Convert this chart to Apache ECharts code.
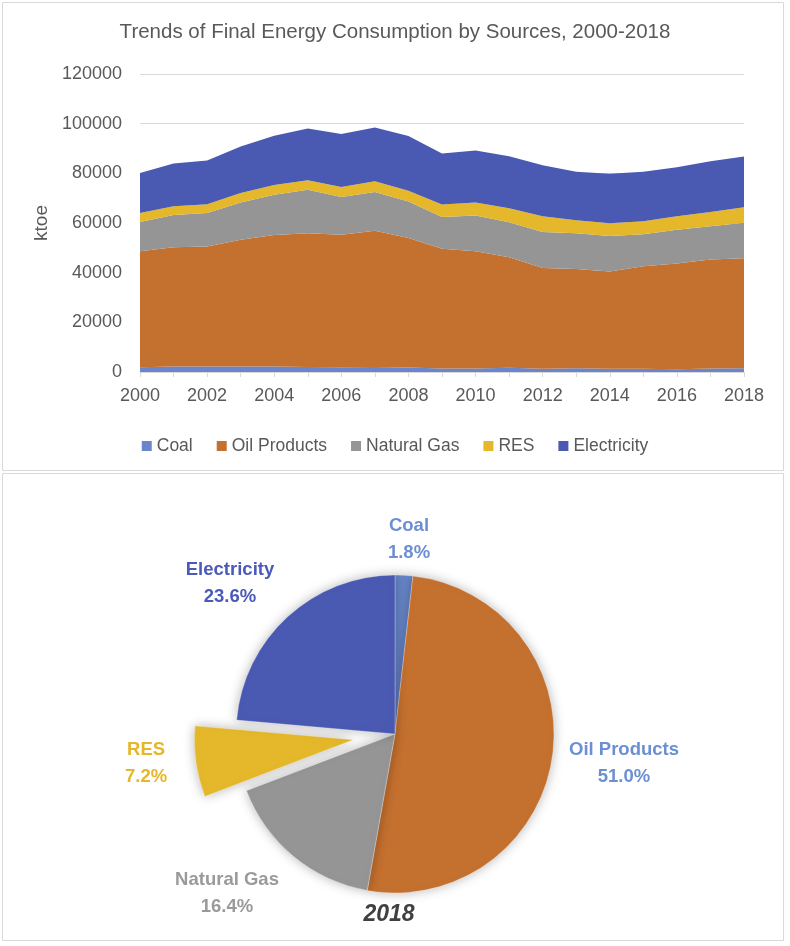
<!DOCTYPE html>
<html>
<head>
<meta charset="utf-8">
<script src="https://cdn.jsdelivr.net/npm/echarts@6/dist/echarts.min.js"></script>
<style>
html,body{margin:0;padding:0;background:#fff;}
#chart{width:790px;height:946px;}
</style>
</head>
<body>
<div id="chart"></div>
<script>
var years = ['2000','2001','2002','2003','2004','2005','2006','2007','2008','2009','2010','2011','2012','2013','2014','2015','2016','2017','2018'];
var seriesNames = ['Coal','Oil Products','Natural Gas','RES','Electricity'];
var coal = [1900,2200,2200,2200,2200,2000,1900,2000,1800,1400,1400,1700,1300,1500,1300,1300,1100,1400,1560];
var oil  = [46700,48000,48300,51100,53000,53900,53400,54900,52200,48200,47200,44500,40600,40000,39200,41300,42600,43900,44270];
var gas  = [11800,13000,13500,15000,16200,17500,15200,15600,14700,12800,14400,14100,14500,14400,14300,12900,13600,13400,14240];
var res  = [3600,3500,3600,3800,3900,3800,4000,4300,4300,5100,5300,5600,6300,5200,5100,5200,5400,5700,6250];
var elec = [16100,17300,17600,18700,19800,20900,21300,21700,22000,20500,20900,21000,20600,19500,19900,19900,19800,20500,20490];
var pieYear = '2018';

var colors = ['#6886c9','#c4702f','#959595','#e5b72a','#4a59b2'];
var labelColors = ['#6c8fd3','#6c8fd3','#9a9a9a','#e5b72a','#4a5ab8'];
var pieLabelPos = [[409,539],[624,763],[227,893],[158,767],[230,583]];

var allData = [coal, oil, gas, res, elec];
var yi = years.indexOf(pieYear);

var areaSeries = seriesNames.map(function(n, i){
  return {
    name: n, type: 'line', stack: 'total', data: allData[i],
    showSymbol: false, symbol: 'none',
    lineStyle: {width: 0},
    areaStyle: {color: colors[i], opacity: 1},
    itemStyle: {color: colors[i]},
    emphasis: {disabled: true},
    z: 2
  };
});

var pieData = seriesNames.map(function(n, i){
  return {
    name: n, value: allData[i][yi],
    selected: n === 'RES',
    itemStyle: {color: colors[i]},
    label: {color: labelColors[i]}
  };
});

var chart = echarts.init(document.getElementById('chart'));
chart.setOption({
  animation: false,
  backgroundColor: '#fff',
  title: {
    text: 'Trends of Final Energy Consumption by Sources, 2000-2018',
    left: 'center', top: 22, padding: 0,
    textStyle: {fontFamily: 'Liberation Sans', fontSize: 20.5, fontWeight: 'normal', color: '#595959'}
  },
  legend: {
    data: seriesNames,
    left: 'center', top: 432,
    itemWidth: 10, itemHeight: 10, itemGap: 24,
    icon: 'rect',
    selectedMode: false,
    textStyle: {fontFamily: 'Liberation Sans', fontSize: 17.5, color: '#595959'}
  },
  grid: {left: 140, right: 46, top: 74, height: 298, containLabel: false},
  xAxis: {
    type: 'category', data: years, boundaryGap: false,
    axisLine: {lineStyle: {color: '#d9d9d9', width: 1}},
    axisTick: {show: true, interval: 0, length: 5, lineStyle: {color: '#d9d9d9'}},
    axisLabel: {interval: 1, margin: 15, fontFamily: 'Liberation Sans', fontSize: 18, color: '#595959'},
    splitLine: {show: false}
  },
  yAxis: {
    type: 'value', min: 0, max: 120000, interval: 20000,
    name: 'ktoe', nameLocation: 'middle', nameGap: 82, nameRotate: 90,
    nameTextStyle: {fontFamily: 'Liberation Sans', fontSize: 19, color: '#595959'},
    axisLine: {show: false}, axisTick: {show: false},
    axisLabel: {margin: 18, fontFamily: 'Liberation Sans', fontSize: 18, color: '#595959',
      formatter: function(v){ return String(v); }},
    splitLine: {lineStyle: {color: '#d9d9d9', width: 1}}
  },
  graphic: [
    {type: 'rect', shape: {x: 2.5, y: 2.5, width: 781, height: 468}, style: {fill: 'none', stroke: '#d9d9d9', lineWidth: 1}, silent: true, z: -1},
    {type: 'rect', shape: {x: 2.5, y: 473.5, width: 781, height: 467}, style: {fill: 'none', stroke: '#d9d9d9', lineWidth: 1}, silent: true, z: -1},
    {type: 'text', x: 389, y: 915, style: {text: pieYear, fontFamily: 'Liberation Sans', fontSize: 23, fontWeight: 'bold', fontStyle: 'italic', fill: '#404040', textAlign: 'center', textVerticalAlign: 'middle'}, silent: true}
  ],
  series: areaSeries.concat([{
    name: 'Share ' + pieYear,
    type: 'pie',
    center: [395, 734],
    radius: 159,
    startAngle: 90,
    clockwise: true,
    selectedMode: 'single',
    selectedOffset: 42,
    percentPrecision: 1,
    avoidLabelOverlap: false,
    emphasis: {disabled: true},
    itemStyle: {borderColor: 'rgba(255,255,255,0.6)', borderWidth: 0.5, shadowBlur: 12, shadowColor: 'rgba(0,0,0,0.28)'},
    label: {
      show: true, position: 'outside',
      formatter: function(p){ return p.name + '\n' + Number(p.percent).toFixed(1) + '%'; },
      fontFamily: 'Liberation Sans', fontSize: 18.5, fontWeight: 'bold', lineHeight: 27, align: 'center'
    },
    labelLine: {show: false},
    labelLayout: function(p){
      var pos = pieLabelPos[p.dataIndex];
      return {x: pos[0], y: pos[1], align: 'center', verticalAlign: 'middle'};
    },
    data: pieData
  }])
});
</script>
</body>
</html>
